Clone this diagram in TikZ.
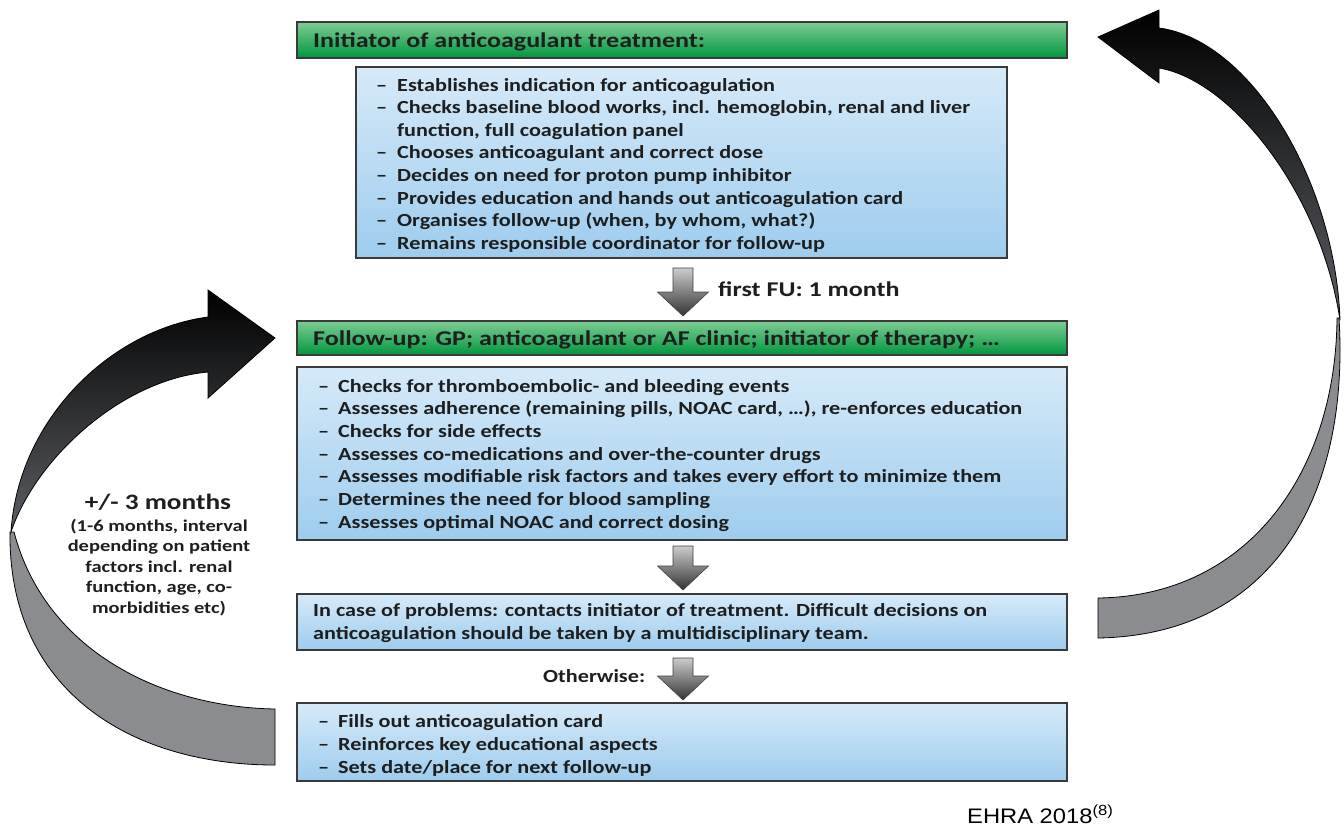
\documentclass[tikz,border=0pt]{standalone}
\usepackage{fontspec}
\setmainfont{Carlito}[FakeStretch=1.2]
\newfontfamily\hdrfont{Carlito}[FakeStretch=1.24]
\newfontfamily\arialf{Liberation Sans}[FakeStretch=1.13]
\usetikzlibrary{calc}
\definecolor{boxline}{HTML}{3A3A3A}
\definecolor{blueT}{RGB}{214,234,249}
\definecolor{blueB}{RGB}{158,204,238}
\definecolor{greenT}{RGB}{125,205,148}
\definecolor{greenM}{RGB}{22,170,80}
\definecolor{greenB}{RGB}{0,150,62}
\definecolor{ribbon}{RGB}{138,140,144}
\definecolor{ribbonend}{RGB}{92,95,100}
\definecolor{txtc}{HTML}{1E1E1E}
\tikzset{
  bluebox/.style={draw=boxline, line width=1.3pt, top color=blueT, bottom color=blueB, inner sep=0pt},
  greenbox/.style={draw=boxline, line width=1.3pt, top color=greenT, middle color=greenM, bottom color=greenB, inner sep=0pt},
  hdr/.style={anchor=base west, inner sep=0pt, text=txtc, font=\hdrfont\bfseries\fontsize{21}{25}\selectfont},
  txt/.style={anchor=base west, inner sep=0pt, text=txtc, font=\bfseries\fontsize{18.5}{22}\selectfont},
  lbl/.style={anchor=base, inner sep=0pt, text=txtc, font=\hdrfont\bfseries\fontsize{16.5}{20}\selectfont},
  ribbonpart/.style={draw=black, line width=0.8pt, fill=ribbon},
  headpart/.style={draw=black, line width=0.8pt, top color=black, bottom color=ribbonend},
  blockarrow/.style={draw=black!75, line width=0.6pt, top color=black!20, bottom color=black!80}
}
\newcommand\blockdown[4]{% name, x, ytop, ytip
  \coordinate (#1) at (#2,#3);
  \shade[blockarrow] ($(#1)+(-10,0)$) -- ($(#1)+(10,0)$) -- (#2+10,#4-24) -- (#2+25.5,#4-24) -- (#2,#4) -- (#2-25.5,#4-24) -- (#2-10,#4-24) -- cycle;}
\begin{document}
\begin{tikzpicture}[x=1pt,y=-1pt]
\useasboundingbox (0,0) rectangle (1344,828);

% ---------- curved arrows ----------
% right (return to initiator)
\coordinate (rtail) at (1098,618);
\coordinate (rtip) at (1098,37);
\filldraw[ribbonpart] (1339,318) .. controls (1350,500) and (1270,635) .. (1098,638) -- (1098,598) .. controls (1250,596) and (1336,470) .. (1337,318) -- cycle;
\shade[headpart] (rtip) -- (1159,10) -- (1159,28) .. controls (1250,40) and (1335,180) .. (1340,320) .. controls (1320,190) and (1230,80) .. (1159,68) -- (1159,83) -- cycle;

% left (back to follow-up)
\coordinate (ltail) at (275,737);
\coordinate (ltip) at (275,338);
\filldraw[ribbonpart] (10,532) .. controls (8,690) and (130,765) .. (275,765) -- (275,709) .. controls (160,707) and (45,650) .. (14,532) -- cycle;
\shade[headpart] (ltip) -- (208,290) -- (208,317) .. controls (110,330) and (18,420) .. (11,532) .. controls (35,460) and (120,380) .. (208,372) -- (208,398) -- cycle;

% ---------- boxes ----------
\node[greenbox, minimum width=770pt, minimum height=36pt] (h1) at (682,40) {};
\node[bluebox, minimum width=651pt, minimum height=191pt] (b1) at (681.5,162.5) {};
\node[greenbox, minimum width=770pt, minimum height=34pt] (h2) at (682,338) {};
\node[bluebox, minimum width=770pt, minimum height=173pt] (b2) at (682,453.5) {};
\node[bluebox, minimum width=770pt, minimum height=56pt] (b3) at (682,622) {};
\node[bluebox, minimum width=770pt, minimum height=78pt] (b4) at (682,742) {};

% ---------- block arrows ----------
\blockdown{a1}{683}{268}{316}
\blockdown{a2}{683}{546}{590}
\blockdown{a3}{683}{658}{700}

% ---------- texts ----------
\node[hdr] (h1t) at (313,47) {Initiator of anticoagulant treatment:};
\node[hdr] (h2t) at (313,345) {Follow-up: GP; anticoagulant or AF clinic; initiator of therapy; …};
\node[hdr] (fu) at (718,296) {first FU: 1 month};

% box 1
\node[txt] (d11) at (376,91) {–};  \node[txt] (t11) at (397,91) {Establishes indication for anticoagulation};
\node[txt] (d12) at (376,113.6) {–};  \node[txt] (t12) at (397,113.6) {Checks baseline blood works, incl. hemoglobin, renal and liver};
\node[txt] (t12b) at (397,136.2) {function, full coagulation panel};
\node[txt] (d13) at (376,158.8) {–};  \node[txt] (t13) at (397,158.8) {Chooses anticoagulant and correct dose};
\node[txt] (d14) at (376,181.4) {–};  \node[txt] (t14) at (397,181.4) {Decides on need for proton pump inhibitor};
\node[txt] (d15) at (376,204) {–};  \node[txt] (t15) at (397,204) {Provides education and hands out anticoagulation card};
\node[txt] (d16) at (376,226.6) {–};  \node[txt] (t16) at (397,226.6) {Organises follow-up (when, by whom, what?)};
\node[txt] (d17) at (376,249.2) {–};  \node[txt] (t17) at (397,249.2) {Remains responsible coordinator for follow-up};

% box 2
\node[txt] (d21) at (318,392) {–};  \node[txt] (t21) at (338,392) {Checks for thromboembolic- and bleeding events};
\node[txt] (d22) at (318,414.7) {–};  \node[txt] (t22) at (338,414.7) {Assesses adherence (remaining pills, NOAC card, …), re-enforces education};
\node[txt] (d23) at (318,437.4) {–};  \node[txt] (t23) at (338,437.4) {Checks for side effects};
\node[txt] (d24) at (318,460) {–};  \node[txt] (t24) at (338,460) {Assesses co-medications and over-the-counter drugs};
\node[txt] (d25) at (318,482.7) {–};  \node[txt] (t25) at (338,482.7) {Assesses modifiable risk factors and takes every effort to minimize them};
\node[txt] (d26) at (318,505.4) {–};  \node[txt] (t26) at (338,505.4) {Determines the need for blood sampling};
\node[txt] (d27) at (318,528) {–};  \node[txt] (t27) at (338,528) {Assesses optimal NOAC and correct dosing};

% box 3
\node[txt] (t31) at (313,616) {In case of problems: contacts initiator of treatment. Difficult decisions on};
\node[txt] (t32) at (313,639) {anticoagulation should be taken by a multidisciplinary team.};
\node[txt] (other) at (543,682) {Otherwise:};

% box 4
\node[txt] (d41) at (318,727) {–};  \node[txt] (t41) at (338,727) {Fills out anticoagulation card};
\node[txt] (d42) at (318,750) {–};  \node[txt] (t42) at (338,750) {Reinforces key educational aspects};
\node[txt] (d43) at (318,773) {–};  \node[txt] (t43) at (338,773) {Sets date/place for next follow-up};

% left label
\node[lbl, font=\hdrfont\bfseries\fontsize{22}{26}\selectfont] (m3) at (158,509) {+/- 3 months};
\node[lbl] (m3a) at (159,531) {(1-6 months, interval};
\node[lbl] (m3b) at (159,551.5) {depending on patient};
\node[lbl] (m3c) at (159,572) {factors incl. renal};
\node[lbl] (m3d) at (159,592.5) {function, age, co-};
\node[lbl] (m3e) at (159,613) {morbidities etc)};

% source
\node[anchor=base west, inner sep=0pt, font=\arialf\fontsize{21}{25}\selectfont] (src) at (967,823) {EHRA 2018\textsuperscript{(8)}};
\end{tikzpicture}
\end{document}
